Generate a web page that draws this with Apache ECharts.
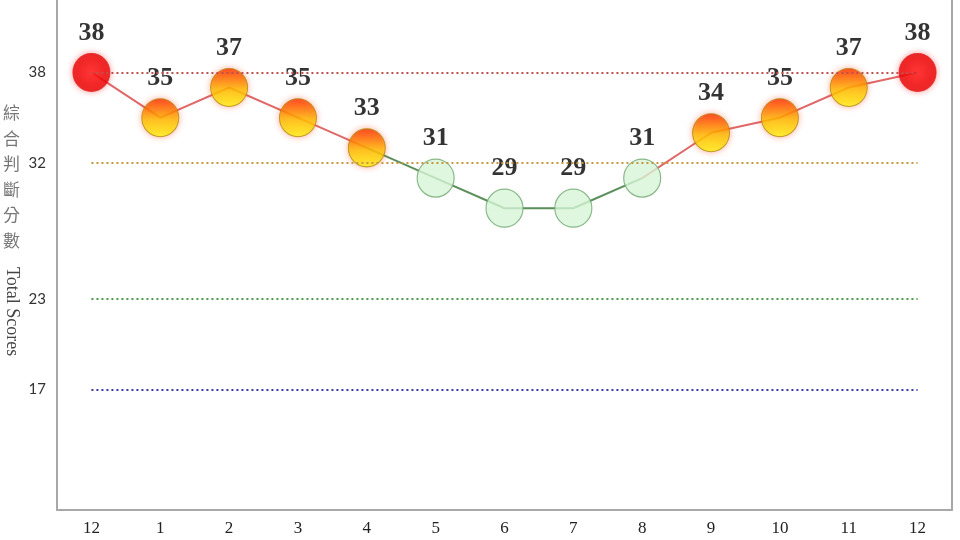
<!DOCTYPE html>
<html><head><meta charset="utf-8">
<script src="https://cdn.jsdelivr.net/npm/echarts@6/dist/echarts.min.js"></script>
<style>html,body{margin:0;padding:0;background:#fff}#c{width:960px;height:540px}</style>
</head><body><div id="c"></div>
<script>
var categories = ['12','1','2','3','4','5','6','7','8','9','10','11','12'];
var scores = [38,35,37,35,33,31,29,29,31,34,35,37,38];
var redSegment = [38,35,37,35,33,null,null,null,31,34,35,37,38];
var greenSegment = [null,null,null,null,33,31,29,29,31,null,null,null,null];
var thresholds = [38,32,23,17];
var thresholdColors = ['#c0504d','#c8963c','#4e9a4e','#3a3aa8'];

function markerStyle(v){
  if (v >= 38) return {color:{type:'radial',x:0.5,y:0.5,r:0.5,colorStops:[{offset:0,color:'#ff1a1a'},{offset:1,color:'#e60000'}]},borderColor:'#e02020',borderWidth:1,shadowBlur:6,shadowColor:'rgba(255,0,0,0.45)'};
  if (v >= 32) return {color:{type:'linear',x:0,y:0,x2:0,y2:1,colorStops:[{offset:0,color:'#ff2a00'},{offset:0.55,color:'#ffc000'},{offset:1,color:'#ffff10'}]},borderColor:'#b08a10',borderWidth:1,shadowBlur:6,shadowColor:'rgba(255,60,0,0.45)'};
  return {color:'#d6f5d6',borderColor:'#72a872',borderWidth:1.2};
}

var markers = scores.map(function(v){ return {value:v, itemStyle:markerStyle(v)}; });

var markLineData = thresholds.map(function(t,i){
  return [{coord:[0,t], lineStyle:{color:thresholdColors[i]}},{coord:[categories.length-1,t]}];
});

var frameLine = {show:true,lineStyle:{color:'#a8a8a8',width:2}};

var chart = echarts.init(document.getElementById('c'));
chart.setOption({
  animation:false,
  backgroundColor:'#fff',
  grid:{left:57,right:8,top:0,bottom:30},
  xAxis:{type:'category',data:categories,boundaryGap:true,
    axisLine:frameLine,axisTick:{show:false},splitLine:{show:false},
    axisLabel:{color:'#222',fontFamily:'Liberation Serif',fontSize:17,margin:10}},
  yAxis:[
    {type:'value',min:9,max:42.8,interval:1,
      axisLine:frameLine,axisTick:{show:false},splitLine:{show:false},
      axisLabel:{color:'#333',fontFamily:'Lato',fontSize:15,margin:11,
        formatter:function(v){ return thresholds.indexOf(v)>=0 ? String(v) : ''; }}},
    {type:'value',position:'right',min:9,max:42.8,interval:1,
      axisLine:frameLine,axisTick:{show:false},splitLine:{show:false},axisLabel:{show:false}}
  ],
  graphic:[
    {type:'text',left:3,top:100,style:{text:'綜\n合\n判\n斷\n分\n數',fontFamily:'Noto Sans CJK TC',fontSize:17,lineHeight:25.5,fill:'#777'}},
    {type:'text',x:21,y:267,rotation:-Math.PI/2,style:{text:'Total Scores',fontFamily:'Liberation Serif',fontSize:18,fill:'#444'}}
  ],
  series:[
    {type:'line',data:redSegment,symbol:'none',connectNulls:false,lineStyle:{color:'#e06868',width:2},z:2,
      markLine:{silent:true,symbol:'none',label:{show:false},lineStyle:{type:[2,3],width:2},data:markLineData}},
    {type:'line',data:greenSegment,symbol:'none',connectNulls:false,lineStyle:{color:'#5a8f5a',width:2},z:2},
    {type:'scatter',data:markers,symbol:'circle',symbolSize:[37,38],z:3,
      label:{show:true,position:'top',distance:7,color:'#000',fontFamily:'Liberation Serif',fontWeight:'bold',fontSize:26}}
  ]
});
</script></body></html>
